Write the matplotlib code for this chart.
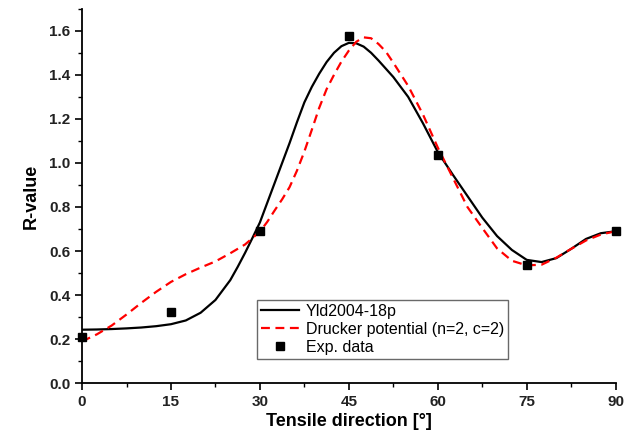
import matplotlib.pyplot as plt
import numpy as np
from matplotlib.ticker import MultipleLocator

plt.rcParams['font.family'] = ['Liberation Sans', 'DejaVu Sans']

# Yld2004-18p: angulo (grados) y valor R
ang_yld = [0, 2.5, 5, 7.5, 10, 12.5, 15, 17.5, 20, 22.5, 25, 26.25, 27.5,
           28.75, 30, 31.25, 32.5, 33.75, 35, 36.25, 37.5, 38.75, 40, 41.25,
           42.5, 43.75, 45, 46.25, 47.5, 48.75, 50, 52.5, 55, 57.5, 60, 62.5,
           65, 67.5, 70, 72.5, 75, 77.5, 80, 82.5, 85, 87.5, 90]
r_yld = [0.243, 0.244, 0.246, 0.249, 0.253, 0.259, 0.268, 0.285, 0.320,
         0.378, 0.468, 0.528, 0.592, 0.660, 0.730, 0.820, 0.910, 1.000,
         1.090, 1.185, 1.275, 1.345, 1.405, 1.458, 1.500, 1.530, 1.545,
         1.543, 1.528, 1.500, 1.465, 1.390, 1.300, 1.180, 1.050, 0.948,
         0.850, 0.752, 0.668, 0.605, 0.560, 0.550, 0.568, 0.610, 0.655,
         0.681, 0.690]

# Drucker potential (n=2, c=2)
ang_drucker = [0, 2.5, 5, 7.5, 10, 12.5, 15, 17.5, 20, 22.5, 25, 27.5, 30,
               31.25, 32.5, 33.75, 35, 36.25, 37.5, 38.75, 40, 41.25, 42.5,
               43.75, 45, 46.25, 47.5, 48.75, 50, 51.25, 52.5, 55, 57.5, 60,
               62.5, 65, 67.5, 70, 72.5, 75, 77.5, 80, 82.5, 85, 87.5, 90]
r_drucker = [0.190, 0.222, 0.262, 0.312, 0.365, 0.415, 0.460, 0.495, 0.525,
             0.553, 0.590, 0.630, 0.688, 0.733, 0.785, 0.835, 0.890, 0.965,
             1.052, 1.150, 1.250, 1.335, 1.400, 1.460, 1.510, 1.550, 1.570,
             1.566, 1.540, 1.505, 1.455, 1.350, 1.220, 1.070, 0.935, 0.800,
             0.705, 0.612, 0.556, 0.535, 0.538, 0.570, 0.610, 0.648, 0.675,
             0.690]

# datos experimentales
ang_exp = [0, 15, 30, 45, 60, 75, 90]
r_exp = [0.208, 0.322, 0.689, 1.578, 1.037, 0.536, 0.689]

fig = plt.figure(figsize=(6.36, 4.36), dpi=100)
ax = fig.add_axes([0.129, 0.121, 0.839, 0.859])

ax.plot(ang_yld, r_yld, color='black', lw=1.6, label='Yld2004-18p')
ax.plot(ang_drucker, r_drucker, color='red', lw=1.6, dashes=(4, 2.5),
        label='Drucker potential (n=2, c=2)')
ax.plot(ang_exp, r_exp, 's', color='black', markersize=6, clip_on=False,
        zorder=5, label='Exp. data')

ax.set_xlim(0, 90)
ax.set_ylim(0, 1.7)
ax.xaxis.set_major_locator(MultipleLocator(15))
ax.xaxis.set_minor_locator(MultipleLocator(7.5))
ax.yaxis.set_major_locator(MultipleLocator(0.2))
ax.yaxis.set_minor_locator(MultipleLocator(0.1))
ax.yaxis.set_major_formatter(lambda v, p: f'{v:.1f}')

for lado in ['top', 'right']:
    ax.spines[lado].set_visible(False)
for lado in ['left', 'bottom']:
    ax.spines[lado].set_linewidth(1.3)

ax.tick_params(which='major', direction='out', length=5, width=1.2,
               labelsize=11, colors='black')
ax.tick_params(which='minor', direction='out', length=3, width=1.0)
for t in ax.get_xticklabels() + ax.get_yticklabels():
    t.set_fontweight('bold')
    t.set_color('#222222')

ax.set_xlabel('Tensile direction [°]', fontsize=13, fontweight='bold', labelpad=3)
ax.set_ylabel('R-value', fontsize=13, fontweight='bold', labelpad=7)

leg = ax.legend(loc='lower left', bbox_to_anchor=(0.328, 0.065), fontsize=11.5,
                frameon=True, fancybox=False, edgecolor='#444444',
                handlelength=2.4, handletextpad=0.4, borderpad=0.25,
                labelspacing=0.2, borderaxespad=0)
leg.get_frame().set_linewidth(1.0)

fig.savefig('out.png', dpi=100)
